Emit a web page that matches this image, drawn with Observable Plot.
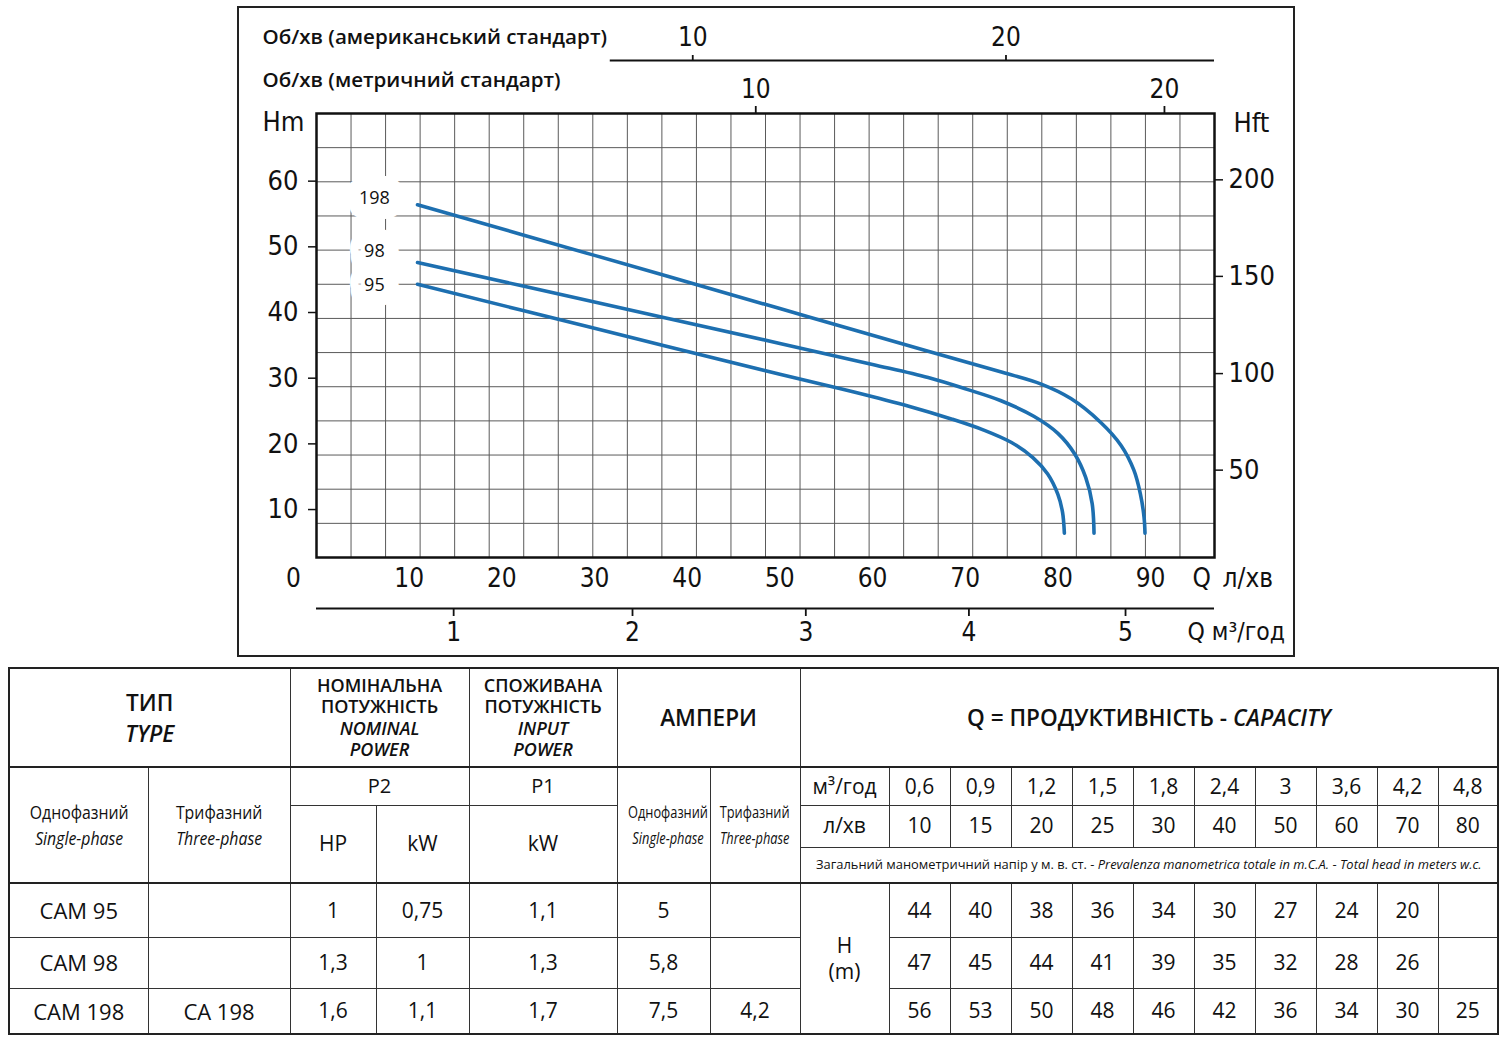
<!DOCTYPE html>
<html><head><meta charset="utf-8">
<script src="https://cdn.jsdelivr.net/npm/d3@7"></script>
<script src="https://cdn.jsdelivr.net/npm/@observablehq/plot@0.6"></script>
<style>
body{margin:0;background:#fff;width:1506px;height:1045px;position:relative;overflow:hidden;font-family:"Open Sans",sans-serif;color:#111}
#chart{position:absolute;left:237px;top:6px;width:1054px;height:647px;border:2px solid #222;background:#fff}
#chart svg{display:block}
#tbl{position:absolute;left:8px;top:667px}
table{border-collapse:collapse;width:1490px;height:366px;table-layout:fixed;border:2.5px solid #222}
td{border:1px solid #333;text-align:center;vertical-align:middle;padding:0;white-space:nowrap;font-size:21px;line-height:1.2}
td.h1{font-size:22.6px;font-weight:600;line-height:31px}
td.h2{font-size:18px;font-weight:600;line-height:21.3px}
td.sub{font-size:18px;line-height:26px}
td.subs{font-size:16px;line-height:26px}
span.c88{display:inline-block;transform:scaleX(0.88)}
span.c80{display:inline-block;transform:scaleX(0.8)}
td.p{font-size:20px;font-weight:500}
td.cam{font-size:22px;font-weight:500}
td.note{font-size:12.9px}
td.tb{border-bottom:2px solid #222}
td.hb{border-bottom:2.5px solid #222}
</style></head><body>
<div id="chart"></div><div id="tbl"></div>
<script>
// ---------- chart data ----------
const xMax = 96.9, yMin = 2.7, yMax = 70.3;
const qTicks = [10, 20, 30, 40, 50, 60, 70, 80, 90];
const hmTicks = [10, 20, 30, 40, 50, 60];
const hftTicks = [50, 100, 150, 200];
const hftTickH = [16.0, 30.7, 45.5, 60.2];
const usTicks = [10, 20];
const usTickQ = [40.6, 74.4];
const usLineStartQ = 31.7;
const metricTicks = [10, 20];
const metricTickQ = [47.4, 91.5];
const m3hTicks = [1, 2, 3, 4, 5];
const m3hTickQ = [14.8, 34.1, 52.8, 70.4, 87.3];
const gridCols = 26, gridRows = 13;

const models = ["198", "98", "95"];
const q198 = [10.9, 30, 50, 66, 74, 78.2, 81.4, 84.6, 86.8, 88.2, 88.9, 89.3, 89.4];
const h198 = [56.4, 48.7, 40.6, 34.1, 30.9, 29.1, 26.9, 23.3, 19.8, 16.0, 12.4, 8.8, 6.4];
const q98 = [10.9, 30, 50, 60, 66, 70.2, 73.8, 77.4, 80.0, 81.8, 83.0, 83.7, 83.9];
const h98 = [47.6, 41.6, 35.3, 32.1, 30.1, 28.3, 26.6, 24.2, 21.6, 18.5, 14.9, 10.9, 6.4];
const q95 = [10.9, 30, 50, 58, 64, 68.5, 72, 75, 77.3, 78.9, 80.0, 80.5, 80.7];
const h95 = [44.3, 37.6, 30.6, 27.9, 25.7, 23.8, 22.1, 20.2, 17.9, 15.4, 12.3, 9.6, 6.4];
const labelQ = [6.25, 6.25, 6.25];
const labelH = [57.4, 49.3, 44.1];

// ---------- table data ----------
const typeSingle = ["CAM 95", "CAM 98", "CAM 198"];
const typeThree = ["", "", "CA 198"];
const p2hp = [1, 1.3, 1.6];
const p2kw = [0.75, 1, 1.1];
const p1kw = [1.1, 1.3, 1.7];
const ampSingle = [5, 5.8, 7.5];
const ampThree = [null, null, 4.2];
const capM3h = [0.6, 0.9, 1.2, 1.5, 1.8, 2.4, 3, 3.6, 4.2, 4.8];
const capLmin = [10, 15, 20, 25, 30, 40, 50, 60, 70, 80];
const head95 = [44, 40, 38, 36, 34, 30, 27, 24, 20, null];
const head98 = [47, 45, 44, 41, 39, 35, 32, 28, 26, null];
const head198 = [56, 53, 50, 48, 46, 42, 36, 34, 30, 25];

// ---------- build chart ----------
const curveQ = {"198": q198, "98": q98, "95": q95};
const curveH = {"198": h198, "98": h98, "95": h95};
const curveRows = models.flatMap(m => curveQ[m].map((q, i) => ({model: m, q, h: curveH[m][i]})));
const labelRows = models.map((m, i) => ({model: m, q: labelQ[i], h: labelH[i]}));
const gridX = d3.range(1, gridCols).map(i => xMax * i / gridCols);
const gridY = d3.range(1, gridRows).map(i => yMin + (yMax - yMin) * i / gridRows);
const usMap = new Map(usTickQ.map((q, i) => [q, usTicks[i]]));
const metricMap = new Map(metricTickQ.map((q, i) => [q, metricTicks[i]]));
const m3hMap = new Map(m3hTickQ.map((q, i) => [q, m3hTicks[i]]));
const hftMap = new Map(hftTickH.map((h, i) => [h, hftTicks[i]]));
const numFont = "'DejaVu Sans Condensed', 'DejaVu Sans', sans-serif";
const txtFont = "'Open Sans', sans-serif";
const blue = "#1d6fb0";

const chart = Plot.plot({
  width: 1054, height: 647,
  marginLeft: 77, marginRight: 79, marginTop: 105, marginBottom: 98,
  x: {domain: [0, xMax]},
  y: {domain: [yMin, yMax]},
  style: {fontFamily: numFont, color: "#111", background: "white", overflow: "visible"},
  marks: [
    Plot.ruleX(gridX, {stroke: "#5a5a5a", strokeWidth: 1}),
    Plot.ruleY(gridY, {stroke: "#5a5a5a", strokeWidth: 1}),
    Plot.line(curveRows, {x: "q", y: "h", z: "model", stroke: blue, strokeWidth: 3.6, curve: "catmull-rom"}),
    Plot.text(labelRows, {x: "q", y: "h", text: "model", fontSize: 18, fontFamily: txtFont, fill: "#111", stroke: "white", strokeWidth: 30}),
    Plot.frame({stroke: "#111", strokeWidth: 2.5}),
    // left Hm axis
    Plot.axisY(hmTicks, {anchor: "left", tickSize: 8, tickPadding: 10, strokeWidth: 1.5, fontSize: 27, fontFamily: numFont, label: null}),
    // right Hft axis
    Plot.axisY(hftTickH, {anchor: "right", tickSize: 8, tickPadding: 6, strokeWidth: 1.5, fontSize: 27, fontFamily: numFont, tickFormat: d => hftMap.get(d), label: null}),
    // bottom Q l/min labels
    Plot.axisX(qTicks, {anchor: "bottom", tickSize: 0, tickPadding: 11, fontSize: 26, fontFamily: numFont, label: null}),
    Plot.text([0], {x: d => d, frameAnchor: "bottom", dx: -23, dy: 11, lineAnchor: "top", text: d => d, fontSize: 26, fontFamily: numFont}),
    Plot.text(["Q\u2002л/хв"], {frameAnchor: "bottom-right", textAnchor: "start", dx: -22, dy: 11, lineAnchor: "top", fontSize: 26, fontFamily: numFont}),
    // bottom m3/h axis
    Plot.ruleY([{y: yMin, x1: 0, x2: xMax}], {y: "y", x1: "x1", x2: "x2", dy: 51, stroke: "#111", strokeWidth: 1.8}),
    Plot.axisX(m3hTickQ, {anchor: "bottom", dy: 51, tickSize: 8, tickPadding: 6, strokeWidth: 1.8, tickFormat: d => m3hMap.get(d), fontSize: 26, fontFamily: numFont, label: null}),
    Plot.text(["Q м³/год"], {frameAnchor: "bottom-right", textAnchor: "start", dx: -27, dy: 65, lineAnchor: "top", fontSize: 24.5, fontFamily: numFont}),
    // top US axis
    Plot.ruleY([{y: yMax, x1: usLineStartQ, x2: xMax}], {y: "y", x1: "x1", x2: "x2", dy: -53, stroke: "#111", strokeWidth: 1.8}),
    Plot.axisX(usTickQ, {anchor: "top", dy: -53, tickSize: 6, tickPadding: 9, strokeWidth: 1.8, tickFormat: d => usMap.get(d), fontSize: 26, fontFamily: numFont, label: null}),
    // top metric axis
    Plot.axisX(metricTickQ, {anchor: "top", tickSize: 8, tickPadding: 8, strokeWidth: 1.8, tickFormat: d => metricMap.get(d), fontSize: 26, fontFamily: numFont, label: null}),
    // titles
    Plot.text(["Об/хв (американський стандарт)"], {frameAnchor: "top-left", textAnchor: "start", lineAnchor: "middle", dx: -54, dy: -76, fontSize: 20.6, fontWeight: 600, fontFamily: txtFont}),
    Plot.text(["Об/хв (метричний стандарт)"], {frameAnchor: "top-left", textAnchor: "start", lineAnchor: "middle", dx: -54, dy: -33, fontSize: 20.6, fontWeight: 600, fontFamily: txtFont}),
    Plot.text(["Hm"], {frameAnchor: "top-left", textAnchor: "start", lineAnchor: "middle", dx: -54, dy: 9, fontSize: 27, fontFamily: numFont}),
    Plot.text(["Hft"], {frameAnchor: "top-right", textAnchor: "start", lineAnchor: "middle", dx: 19, dy: 10, fontSize: 27, fontFamily: numFont})
  ]
});
document.getElementById("chart").appendChild(chart);

// ---------- build table ----------
const fmt = v => v == null ? "" : String(v).replace(".", ",");
const colWidths = [139, 142, 86, 93, 148, 93, 90, 89, 61, 61, 61, 61, 61, 61, 61, 61, 61, 60];
const rowHeights = [99, 38, 42, 36, 54, 51, 46];
const table = d3.select("#tbl").append("table");
const cg = table.append("colgroup");
colWidths.forEach(w => cg.append("col").style("width", w + "px"));
function addRow(h, cells) {
  const tr = table.append("tr").style("height", h + "px");
  cells.forEach(c => {
    const td = tr.append("td").html(c.h);
    if (c.cs) td.attr("colspan", c.cs);
    if (c.rs) td.attr("rowspan", c.rs);
    if (c.cl) td.attr("class", c.cl);
  });
}
addRow(rowHeights[0], [
  {h: "ТИП<br><i>TYPE</i>", cs: 2, cl: "h1 tb"},
  {h: "НОМІНАЛЬНА<br>ПОТУЖНІСТЬ<br><i>NOMINAL<br>POWER</i>", cs: 2, cl: "h2 tb"},
  {h: "СПОЖИВАНА<br>ПОТУЖНІСТЬ<br><i>INPUT<br>POWER</i>", cl: "h2 tb"},
  {h: "АМПЕРИ", cs: 2, cl: "h1 tb"},
  {h: "Q = ПРОДУКТИВНІСТЬ - <i>CAPACITY</i>", cs: 11, cl: "h1 tb"}
]);
addRow(rowHeights[1], [
  {h: "<span class='c88'>Однофазний<br><i>Single-phase</i></span>", rs: 3, cl: "sub hb"},
  {h: "<span class='c88'>Трифазний<br><i>Three-phase</i></span>", rs: 3, cl: "sub hb"},
  {h: "P2", cs: 2, cl: "p"},
  {h: "P1", cl: "p"},
  {h: "<span class='c80'>Однофазний<br><i>Single-phase</i></span>", rs: 3, cl: "subs hb"},
  {h: "<span class='c80'>Трифазний<br><i>Three-phase</i></span>", rs: 3, cl: "subs hb"},
  {h: "м³/год"},
  ...capM3h.map(v => ({h: fmt(v)}))
]);
addRow(rowHeights[2], [
  {h: "HP", rs: 2, cl: "hb"},
  {h: "kW", rs: 2, cl: "hb"},
  {h: "kW", rs: 2, cl: "hb"},
  {h: "л/хв"},
  ...capLmin.map(v => ({h: fmt(v)}))
]);
addRow(rowHeights[3], [
  {h: "Загальний манометричний напір у м. в. ст. - <i>Prevalenza manometrica totale in m.C.A.</i> - <i>Total head in meters w.c.</i>", cs: 11, cl: "note hb"}
]);
const heads = [head95, head98, head198];
typeSingle.forEach((t, r) => {
  const cells = [
    {h: t, cl: "cam"}, {h: typeThree[r], cl: "cam"},
    {h: fmt(p2hp[r])}, {h: fmt(p2kw[r])}, {h: fmt(p1kw[r])},
    {h: fmt(ampSingle[r])}, {h: fmt(ampThree[r])}
  ];
  if (r === 0) cells.push({h: "H<br>(m)", rs: 3});
  heads[r].forEach(v => cells.push({h: fmt(v)}));
  addRow(rowHeights[4 + r], cells);
});
</script></body></html>
